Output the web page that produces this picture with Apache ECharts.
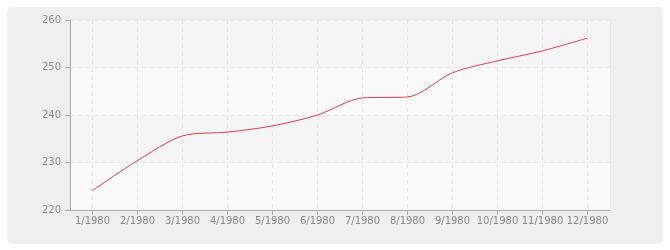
<!DOCTYPE html>
<html><head><meta charset="utf-8">
<script src="https://cdn.jsdelivr.net/npm/echarts@6/dist/echarts.min.js"></script>
<style>html,body{margin:0;padding:0;background:#fff}#c{width:670px;height:250px}</style>
</head><body><div id="c"></div>
<script>
var categories = ['1/1980','2/1980','3/1980','4/1980','5/1980','6/1980','7/1980','8/1980','9/1980','10/1980','11/1980','12/1980'];
var values = [224.1, 230.4, 235.6, 236.4, 237.7, 240.0, 243.6, 243.8, 248.9, 251.4, 253.5, 256.2];
var yMin = 220, yMax = 260, yStep = 10;

var chart = echarts.init(document.getElementById('c'), null, {renderer:'canvas'});
var font = 'DejaVu Sans';
chart.setOption({
  animation:false,
  graphic:[{type:'rect', z:-10, shape:{x:7,y:7,width:656,height:237,r:5}, style:{fill:'#efefef'}},
           {type:'rect', z:-9, shape:{x:70,y:20,width:540,height:190}, style:{fill:'none', stroke:'#e2e2e2', lineWidth:1}}],
  grid:{left:70,right:60,top:20,bottom:40,show:false},
  xAxis:{type:'category', data:categories, boundaryGap:true,
    axisLine:{show:true, lineStyle:{color:'#aaaaaa'}},
    axisTick:{show:true, alignWithLabel:true, length:5, lineStyle:{color:'#aaaaaa'}},
    axisLabel:{color:'#888', fontFamily:font, fontSize:10, margin:6, interval:0},
    splitLine:{show:true, alignWithLabel:true, lineStyle:{color:'#e2e2e2', type:[4,4]}}
  },
  yAxis:{type:'value', min:yMin, max:yMax, interval:yStep,
    axisLine:{show:true, lineStyle:{color:'#aaaaaa'}},
    axisTick:{show:true, length:5, lineStyle:{color:'#aaaaaa'}},
    axisLabel:{color:'#888', fontFamily:font, fontSize:10, margin:9},
    splitLine:{show:true, lineStyle:{color:'#e6e6e6', type:[4,4]}},
    splitArea:{show:true, areaStyle:{color:['#fafafa','#f5f5f5']}}
  },
  series:[{type:'line', data:values, smooth:0.3, symbol:'none',
    lineStyle:{color:'#dc3c50', width:1}}]
});
</script></body></html>
